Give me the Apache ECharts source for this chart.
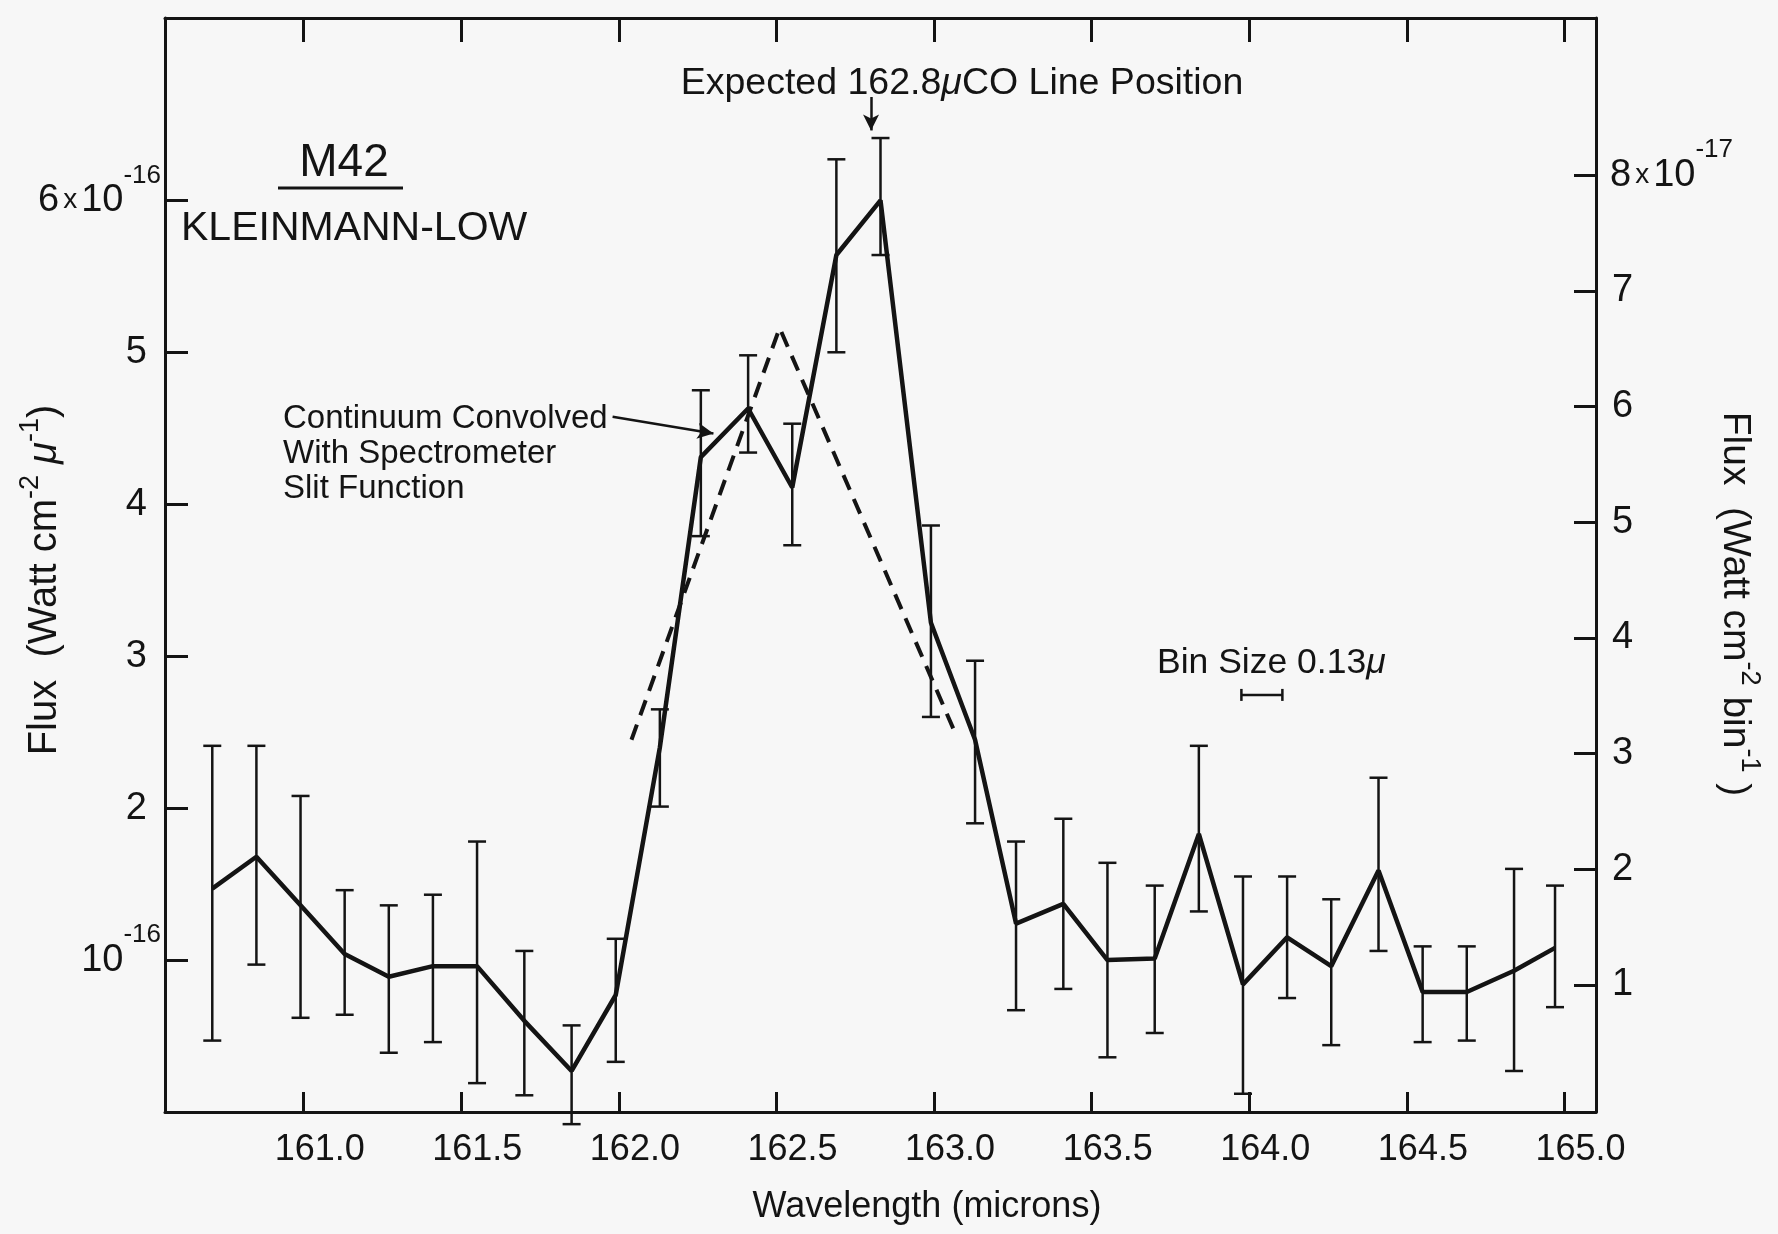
<!DOCTYPE html>
<html>
<head>
<meta charset="utf-8">
<title>M42 Kleinmann-Low</title>
<script src="https://cdn.jsdelivr.net/npm/echarts@6.0.0/dist/echarts.min.js"></script>
<style>
    html, body { margin: 0; padding: 0; background: #f7f7f7; }
    #chart { width: 1778px; height: 1234px; }
</style>
</head>
<body>
<div id="chart"></div>
<script>
// bin centres (microns)
var wavelength = [160.71, 160.85, 160.99, 161.13, 161.27, 161.41, 161.55, 161.70, 161.85, 161.99,
    162.13, 162.26, 162.41, 162.55, 162.69, 162.83, 162.99, 163.13, 163.26, 163.41,
    163.55, 163.70, 163.84, 163.98, 164.12, 164.26, 164.41, 164.55, 164.69, 164.84, 164.97];
// flux, units of 10^-16 Watt cm^-2 micron^-1
var flux = [1.47, 1.68, 1.36, 1.04, 0.89, 0.96, 0.96, 0.60, 0.27, 0.77,
    2.40, 4.31, 4.63, 4.11, 5.64, 6.00, 3.22, 2.45, 1.24, 1.37,
    1.00, 1.01, 1.83, 0.84, 1.15, 0.96, 1.59, 0.79, 0.79, 0.93, 1.08];
var fluxHigh = [2.41, 2.41, 2.08, 1.46, 1.36, 1.43, 1.78, 1.06, 0.57, 1.14,
    2.65, 4.75, 4.98, 4.53, 6.27, 6.41, 3.86, 2.97, 1.78, 1.93,
    1.64, 1.49, 2.41, 1.55, 1.55, 1.40, 2.20, 1.09, 1.09, 1.60, 1.49];
var fluxLow = [0.47, 0.97, 0.62, 0.64, 0.39, 0.46, 0.19, 0.11, -0.08, 0.33,
    2.01, 3.79, 4.34, 3.73, 5.00, 5.64, 2.60, 1.90, 0.67, 0.81,
    0.36, 0.52, 1.32, 0.12, 0.75, 0.44, 1.06, 0.46, 0.47, 0.27, 0.69];

// continuum convolved with the slit function (dashed)
var contWave = [162.04, 162.51, 163.07];
var contFlux = [2.45, 5.16, 2.48];

var xTicks = [161.0, 161.5, 162.0, 162.5, 163.0, 163.5, 164.0, 164.5, 165.0];
var leftTicks = [1, 2, 3, 4, 5, 6];
var leftTickText = ['10', '2', '3', '4', '5', '6x10'];
var leftTickSup = ['-16', '', '', '', '', '-16'];
var rightTicks = [1, 2, 3, 4, 5, 6, 7, 8];
var rightTickText = ['1', '2', '3', '4', '5', '6', '7', '8x10'];
var rightTickSup = ['', '', '', '', '', '', '', '-17'];

var coLine = 162.8;            // expected CO line position
var binMarker = [163.975, 164.105]; // 0.13 micron bin

var INK = '#141414';
var FONT = '"Liberation Sans", Arial, sans-serif';

function tickFormatter(ticks, text, sup) {
    return function (v) {
        for (var i = 0; i < ticks.length; i++) {
            if (Math.abs(ticks[i] - v) < 1e-6) {
                if (!sup[i]) return '{d|' + text[i] + '}';
                var t = text[i].split('x');
                if (t.length > 1) return '{n|' + t[0] + '}{x|x}{n|' + t[1] + '}{s|' + sup[i] + '}';
                return '{n|' + text[i] + '}{s|' + sup[i] + '}';
            }
        }
        return '';
    };
}

function labelRich(plainPad) {
    return {
        d: { fontSize: 38, fontFamily: FONT, color: INK, padding: plainPad },
        n: { fontSize: 38, fontFamily: FONT, color: INK },
        x: { fontSize: 28, fontFamily: FONT, color: INK, padding: [0, 4, 0, 4] },
        s: { fontSize: 26, fontFamily: FONT, color: INK, padding: [0, 0, 50, 0] }
    };
}

function renderErrorBar(params, api) {
    var x = api.value(0);
    var hi = api.coord([x, api.value(1)]);
    var lo = api.coord([x, api.value(2)]);
    var cap = 9;
    var style = { stroke: INK, lineWidth: 2.5 };
    return {
        type: 'group',
        children: [
            { type: 'line', shape: { x1: hi[0], y1: hi[1], x2: lo[0], y2: lo[1] }, style: style },
            { type: 'line', shape: { x1: hi[0] - cap, y1: hi[1], x2: hi[0] + cap, y2: hi[1] }, style: style },
            { type: 'line', shape: { x1: lo[0] - cap, y1: lo[1], x2: lo[0] + cap, y2: lo[1] }, style: style }
        ]
    };
}

function renderBinMarker(params, api) {
    var a = api.coord([api.value(0), api.value(2)]);
    var b = api.coord([api.value(1), api.value(2)]);
    var h = 6;
    var style = { stroke: INK, lineWidth: 2.5 };
    return {
        type: 'group',
        children: [
            { type: 'line', shape: { x1: a[0], y1: a[1], x2: b[0], y2: b[1] }, style: style },
            { type: 'line', shape: { x1: a[0], y1: a[1] - h, x2: a[0], y2: a[1] + h }, style: style },
            { type: 'line', shape: { x1: b[0], y1: b[1] - h, x2: b[0], y2: b[1] + h }, style: style }
        ]
    };
}

var mainData = wavelength.map(function (w, i) { return [w, flux[i]]; });
var errData = wavelength.map(function (w, i) { return [w, fluxHigh[i], fluxLow[i]]; });
var contData = contWave.map(function (w, i) { return [w, contFlux[i]]; });

function xAxisBase(pos, showLabel) {
    return {
        type: 'value',
        position: pos,
        min: 160.56,
        max: 165.10,
        splitLine: { show: false },
        axisLine: { onZero: false, lineStyle: { color: INK, width: 3 } },
        axisTick: { inside: true, length: pos === 'top' ? 24 : 20, customValues: xTicks, lineStyle: { color: INK, width: 3 } },
        axisLabel: {
            show: showLabel,
            customValues: xTicks,
            formatter: function (v) { return v.toFixed(1); },
            fontSize: 36,
            fontFamily: FONT,
            color: INK,
            margin: 20,
            padding: [0, 0, 0, 32]
        }
    };
}

var option = {
    backgroundColor: '#f7f7f7',
    animation: false,
    grid: { left: 165, right: 182, top: 18, bottom: 122 },
    xAxis: [xAxisBase('bottom', true), xAxisBase('top', false)],
    yAxis: [
        {
            type: 'value',
            position: 'left',
            min: 0,
            max: 7.2,
            splitLine: { show: false },
            axisLine: { onZero: false, lineStyle: { color: INK, width: 3 } },
            axisTick: { inside: true, length: 23, customValues: leftTicks, lineStyle: { color: INK, width: 3 } },
            axisLabel: {
                customValues: leftTicks,
                margin: 4,
                formatter: tickFormatter(leftTicks, leftTickText, leftTickSup),
                rich: labelRich([0, 14, 0, 0])
            }
        },
        {
            type: 'value',
            position: 'right',
            min: -0.1,
            max: 9.36,
            splitLine: { show: false },
            axisLine: { onZero: false, lineStyle: { color: INK, width: 3 } },
            axisTick: { inside: true, length: 22, customValues: rightTicks, lineStyle: { color: INK, width: 3 } },
            axisLabel: {
                customValues: rightTicks,
                margin: 14,
                formatter: tickFormatter(rightTicks, rightTickText, rightTickSup),
                rich: labelRich([0, 0, 0, 2])
            }
        }
    ],
    series: [
        {
            name: 'errors',
            type: 'custom',
            renderItem: renderErrorBar,
            clip: false,
            data: errData,
            z: 2
        },
        {
            name: 'flux',
            type: 'line',
            data: mainData,
            symbol: 'none',
            lineStyle: { color: INK, width: 4.5 },
            z: 3,
            markLine: {
                silent: true,
                symbol: ['none', 'arrow'],
                symbolSize: [12, 16],
                label: { show: false },
                lineStyle: { color: INK, width: 2.5, type: 'solid' },
                data: [
                    [{ coord: [coLine, 6.68] }, { coord: [coLine, 6.46] }],
                    [{ coord: [161.98, 4.575] }, { coord: [162.30, 4.465] }]
                ]
            }
        },
        {
            name: 'continuum',
            type: 'line',
            data: contData,
            symbol: 'none',
            lineStyle: { color: INK, width: 4, type: [16, 10] },
            z: 3
        },
        {
            name: 'bin',
            type: 'custom',
            renderItem: renderBinMarker,
            data: [[binMarker[0], binMarker[1], 2.745]],
            z: 3
        }
    ],
    graphic: [
        {
            type: 'text', x: 962, y: 84,
            style: {
                text: 'Expected 162.8{mu|μ}CO Line Position',
                fontSize: 37.5, fontFamily: FONT, fill: INK, align: 'center', verticalAlign: 'middle',
                rich: { mu: { fontSize: 37.5, fontFamily: FONT, fontStyle: 'italic', fill: INK } }
            }
        },
        {
            type: 'text', x: 344, y: 163,
            style: { text: 'M42', fontSize: 46, fontFamily: FONT, fill: INK, align: 'center', verticalAlign: 'middle' }
        },
        {
            type: 'line', shape: { x1: 278, y1: 188, x2: 403, y2: 188 },
            style: { stroke: INK, lineWidth: 3 }
        },
        {
            type: 'text', x: 181, y: 229,
            style: { text: 'KLEINMANN-LOW', fontSize: 41, fontFamily: FONT, fill: INK, align: 'left', verticalAlign: 'middle' }
        },
        {
            type: 'text', x: 283, y: 454,
            style: {
                text: 'Continuum Convolved\nWith Spectrometer\nSlit Function',
                fontSize: 33, lineHeight: 35, fontFamily: FONT, fill: INK, align: 'left', verticalAlign: 'middle'
            }
        },
        {
            type: 'text', x: 1157, y: 663,
            style: {
                text: 'Bin Size 0.13{mu|μ}',
                fontSize: 35.5, fontFamily: FONT, fill: INK, align: 'left', verticalAlign: 'middle',
                rich: { mu: { fontSize: 35.5, fontFamily: FONT, fontStyle: 'italic', fill: INK } }
            }
        },
        {
            type: 'text', x: 927, y: 1207,
            style: { text: 'Wavelength (microns)', fontSize: 36, fontFamily: FONT, fill: INK, align: 'center', verticalAlign: 'middle' }
        },
        {
            type: 'text', x: 45, y: 580, rotation: Math.PI / 2,
            style: {
                text: 'Flux  (Watt cm{s|-2} {mu|μ}{s|-1})',
                fontSize: 40, fontFamily: FONT, fill: INK, align: 'center', verticalAlign: 'middle',
                rich: {
                    s: { fontSize: 27, fontFamily: FONT, fill: INK, padding: [0, 0, 28, 0] },
                    mu: { fontSize: 40, fontFamily: FONT, fontStyle: 'italic', fill: INK }
                }
            }
        },
        {
            type: 'text', x: 1735, y: 604, rotation: -Math.PI / 2,
            style: {
                text: 'Flux  (Watt cm{s|-2} bin{s|-1} )',
                fontSize: 39, fontFamily: FONT, fill: INK, align: 'center', verticalAlign: 'middle',
                rich: {
                    s: { fontSize: 27, fontFamily: FONT, fill: INK, padding: [0, 0, 28, 0] }
                }
            }
        }
    ]
};

var chart = echarts.init(document.getElementById('chart'));
chart.setOption(option);
</script>
</body>
</html>
